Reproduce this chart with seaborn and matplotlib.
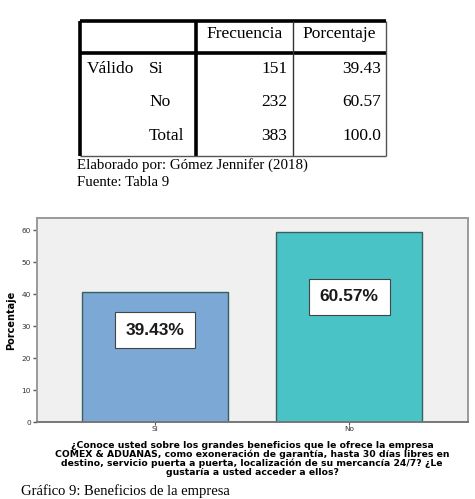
import matplotlib
matplotlib.use('Agg')
import matplotlib.pyplot as plt
import seaborn as sns
import pandas as pd
from matplotlib.lines import Line2D

# table data
row_labels = ['Si', 'No', 'Total']
frecuencia = [151, 232, 383]
porcentaje = ['39.43', '60.57', '100.0']

# chart data (bar heights, labels from the annotations)
categorias = ['Si', 'No']
valores = [40.6, 59.4]
etiquetas = ['39.43%', '60.57%']
etiqueta_y = [28.8, 39.2]
colores = ['#7ba8d5', '#49c3c6']
pregunta = ('¿Conoce usted sobre los grandes beneficios que le ofrece la empresa\n'
            'COMEX & ADUANAS, como exoneración de garantía, hasta 30 días libres en\n'
            'destino, servicio puerta a puerta, localización de su mercancía 24/7? ¿Le\n'
            'gustaría a usted acceder a ellos?')

W, H = 475, 499
fig = plt.figure(figsize=(W / 100, H / 100), dpi=100)
fig.patch.set_facecolor('white')

def fx(x):
    return x / W

def fy(y):
    return 1 - y / H

def line(x0, y0, x1, y1, lw, color='black'):
    fig.add_artist(Line2D([fx(x0), fx(x1)], [fy(y0), fy(y1)], lw=lw, color=color,
                          solid_capstyle='butt'))

serif = 'Liberation Serif'

# ---- table ----
L, R, T, B = 79.5, 386, 20.5, 155.5
c1, c2, hb = 196, 292.7, 53.3
line(L, T, R, T, 2.6)
line(L, T, L, B, 2.6)
line(L, hb, R, hb, 2.6)
line(c1, T, c1, B, 2.6)
line(c2, T, c2, B, 1.0, '#333333')
line(R, T, R, B, 1.0, '#555555')
line(L, B, R, B, 1.0, '#555555')

fig.text(fx((c1 + c2) / 2), fy(34), 'Frecuencia', family=serif, fontsize=12.5,
         ha='center', va='center')
fig.text(fx((c2 + R) / 2), fy(34), 'Porcentaje', family=serif, fontsize=12.5,
         ha='center', va='center')
fig.text(fx(87), fy(69), 'Válido', family=serif, fontsize=12.5, ha='left', va='center')
row_y = [69, 102, 136]
for lab, f, p, y in zip(row_labels, frecuencia, porcentaje, row_y):
    fig.text(fx(149), fy(y), lab, family=serif, fontsize=12.5, ha='left', va='center')
    fig.text(fx(287.5), fy(y), str(f), family=serif, fontsize=12.5, ha='right', va='center')
    fig.text(fx(381), fy(y), p, family=serif, fontsize=12.5, ha='right', va='center')

fig.text(fx(77), fy(165), 'Elaborado por: Gómez Jennifer (2018)', family=serif,
         fontsize=10.7, ha='left', va='center')
fig.text(fx(77), fy(182.5), 'Fuente: Tabla 9', family=serif, fontsize=10.7,
         ha='left', va='center')

# ---- chart ----
ax = fig.add_axes([fx(36.7), fy(422.3), fx(467.7) - fx(36.7), fy(218.3) - fy(422.3)])
ax.set_facecolor('#f0f0f0')
df = pd.DataFrame({'cat': categorias, 'val': valores})
sns.barplot(data=df, x='cat', y='val', hue='cat', palette=colores, legend=False,
            width=0.75, edgecolor='#3b5f61', linewidth=1.0, saturation=1, ax=ax)
ax.set_xlim(-0.61, 1.61)
ax.set_ylim(0, 63.75)
ax.set_yticks([0, 10, 20, 30, 40, 50, 60])

for i, (lab, y) in enumerate(zip(etiquetas, etiqueta_y)):
    ax.text(i, y, lab, ha='center', va='center', fontsize=12.5, fontweight='bold',
            family='Liberation Sans', color='#1a1a1a',
            bbox=dict(boxstyle='square,pad=0.62', facecolor='white', edgecolor='#444444',
                      linewidth=0.8))

for s in ax.spines.values():
    s.set_color('#9a9a9a')
    s.set_linewidth(1.4)
ax.spines['bottom'].set_color('#777777')
ax.tick_params(axis='y', length=3, width=1, color='#555555', labelsize=5.3,
               labelcolor='#333333', pad=1)
ax.tick_params(axis='x', length=2, width=0.8, color='#555555', labelsize=5.3,
               labelcolor='#333333', pad=1)
ax.set_xlabel(pregunta, fontsize=6.7, fontweight='bold', family='DejaVu Sans',
              linespacing=0.95, labelpad=6)
ax.set_ylabel('Porcentaje', fontsize=7, fontweight='bold', family='DejaVu Sans',
              labelpad=4)

fig.text(fx(21), fy(498.5), 'Gráfico 9: Beneficios de la empresa', family=serif,
         fontsize=10.5, ha='left', va='bottom')

fig.savefig('out.png', dpi=100)
